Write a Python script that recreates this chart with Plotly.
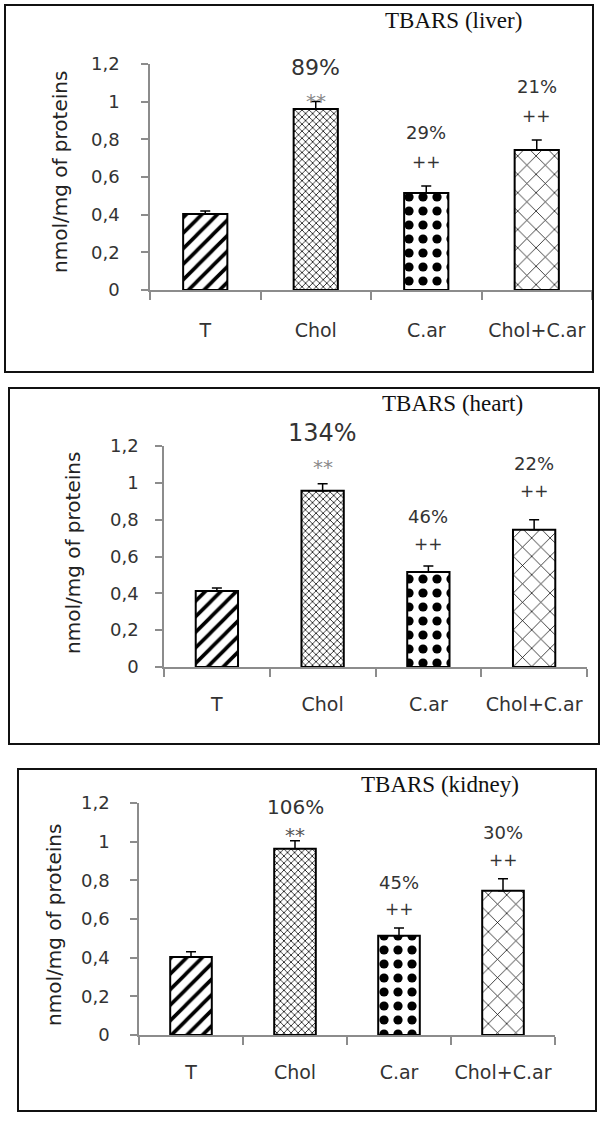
import plotly.graph_objects as go

W, H = 606, 1126

categories = ["T", "Chol", "C.ar", "Chol+C.ar"]

liver_vals = [0.404, 0.961, 0.515, 0.743]
liver_err = [0.016, 0.040, 0.037, 0.054]
heart_vals = [0.413, 0.957, 0.516, 0.745]
heart_err = [0.016, 0.038, 0.033, 0.055]
kidney_vals = [0.404, 0.964, 0.513, 0.746]
kidney_err = [0.026, 0.041, 0.041, 0.062]

liver_pct = ["", "89%", "29%", "21%"]
heart_pct = ["", "134%", "46%", "22%"]
kidney_pct = ["", "106%", "45%", "30%"]
sig_labels = ["", "**", "++", "++"]

titles = ["TBARS (liver)", "TBARS (heart)", "TBARS (kidney)"]
y_title = "nmol/mg of proteins"
y_ticks = [0, 0.2, 0.4, 0.6, 0.8, 1.0, 1.2]
Y_MAX = 1.2

# ---------- layout / style (pixel geometry) ----------
def px_x(p):
    return p / W

def px_y(p):
    return 1 - p / H

panels = [
    dict(vals=liver_vals, err=liver_err, pct=liver_pct,
         xdom=(150, 592), ydom=(290, 64), box=(5, 5, 593, 372),
         title_xy=(453, 21), ytitle_xy=(60, 172),
         pct_y=[None, 1.179, 0.834, 1.078], sig_y=[None, 1.004, 0.680, 0.924],
         pct_size=[0, 22, 18, 18], sig_color="#8a8a8a", label_standoff=22, ytick_standoff=18),
    dict(vals=heart_vals, err=heart_err, pct=heart_pct,
         xdom=(164, 587), ydom=(667, 446), box=(9, 388, 599, 744),
         title_xy=(452, 404), ytitle_xy=(73, 553),
         pct_y=[None, 1.272, 0.815, 1.103], sig_y=[None, 1.087, 0.668, 0.957],
         pct_size=[0, 24, 18, 18], sig_color="#8a8a8a", label_standoff=19, ytick_standoff=13),
    dict(vals=kidney_vals, err=kidney_err, pct=kidney_pct,
         xdom=(139, 555), ydom=(1035, 803), box=(18, 769, 596, 1111),
         title_xy=(440, 784), ytitle_xy=(54, 925),
         pct_y=[None, 1.181, 0.788, 1.047], sig_y=[None, 1.036, 0.653, 0.907],
         pct_size=[0, 20, 18, 18], sig_color="#555555", label_standoff=19, ytick_standoff=17),
]

pattern_shapes = ["/", "x", ".", "x"]
pattern_sizes = [11, 5, 14, 13]
pattern_solid = [0.33, 0.28, 0.34, 0.11]

fig = go.Figure()
annotations = []
shapes = []

for i, p in enumerate(panels):
    n = "" if i == 0 else str(i + 1)
    xa, ya = "x" + n, "y" + n
    fig.add_trace(go.Bar(
        x=categories, y=p["vals"], xaxis=xa, yaxis=ya, width=0.4,
        marker=dict(color="white",
                    line=dict(color="black", width=2),
                    pattern=dict(shape=pattern_shapes, size=pattern_sizes,
                                 solidity=pattern_solid, fgcolor="black",
                                 bgcolor="white", fillmode="replace")),
        error_y=dict(type="data", symmetric=False, array=p["err"],
                     arrayminus=[0] * len(p["err"]), color="black",
                     thickness=1.5, width=5),
        showlegend=False, hoverinfo="skip",
    ))
    x0, x1 = p["xdom"]
    yb, yt = p["ydom"]
    fig.layout["xaxis" + n] = dict(
        domain=[px_x(x0), px_x(x1)], anchor=ya, type="category",
        range=[-0.5, len(categories) - 0.5], automargin=False, tickangle=0,
        showline=True, linecolor="#8c8c8c", linewidth=1.5,
        ticks="outside", ticklen=8, tickcolor="#8c8c8c", tickwidth=1.5,
        tickson="boundaries", showgrid=False, zeroline=False,
        ticklabelstandoff=p["label_standoff"],
        tickfont=dict(family="DejaVu Sans", size=19, color="#333333"),
        fixedrange=True,
    )
    fig.layout["yaxis" + n] = dict(
        domain=[px_y(yb), px_y(yt)], anchor=xa, range=[0, Y_MAX], automargin=False,
        tickvals=y_ticks, showline=True, linecolor="#8c8c8c", linewidth=1.5,
        ticks="outside", ticklen=7, tickcolor="#8c8c8c", tickwidth=1.5,
        showgrid=False, zeroline=False,
        ticklabelstandoff=p["ytick_standoff"],
        tickfont=dict(family="DejaVu Sans", size=18, color="#333333"),
        fixedrange=True,
    )
    bx0, by0, bx1, by1 = p["box"]
    shapes.append(dict(type="rect", xref="paper", yref="paper",
                       x0=px_x(bx0), x1=px_x(bx1), y0=px_y(by1), y1=px_y(by0),
                       line=dict(color="#111111", width=2)))
    tx, ty = p["title_xy"]
    annotations.append(dict(text=titles[i], xref="paper", yref="paper",
                            x=px_x(tx), y=px_y(ty), showarrow=False,
                            xanchor="center", yanchor="middle",
                            font=dict(family="Liberation Serif", size=23, color="#111111")))
    yx, yy = p["ytitle_xy"]
    annotations.append(dict(text=y_title, xref="paper", yref="paper",
                            x=px_x(yx), y=px_y(yy), showarrow=False, textangle=-90,
                            xanchor="center", yanchor="middle",
                            font=dict(family="DejaVu Sans", size=20, color="#222222")))
    for k, cat in enumerate(categories):
        if p["pct"][k]:
            annotations.append(dict(text=p["pct"][k], xref=xa, yref=ya + " domain", x=cat,
                                    y=p["pct_y"][k] / Y_MAX, showarrow=False,
                                    xanchor="center", yanchor="middle",
                                    font=dict(family="DejaVu Sans", size=p["pct_size"][k],
                                              color="#333333")))
        if sig_labels[k]:
            col = p["sig_color"] if sig_labels[k] == "**" else "#333333"
            sz = 20 if sig_labels[k] == "**" else 17
            annotations.append(dict(text=sig_labels[k], xref=xa, yref=ya + " domain", x=cat,
                                    y=p["sig_y"][k] / Y_MAX, showarrow=False,
                                    xanchor="center", yanchor="middle",
                                    font=dict(family="DejaVu Sans", size=sz, color=col)))

fig.update_layout(
    width=W, height=H, margin=dict(l=0, r=0, t=0, b=0, autoexpand=False),
    paper_bgcolor="white", plot_bgcolor="white",
    separators=",.", bargap=0.6,
    annotations=annotations, shapes=shapes,
)

fig.write_html("out.html", config={"displayModeBar": False},
               post_script="document.body.style.margin='0';document.body.style.overflow='hidden';")
